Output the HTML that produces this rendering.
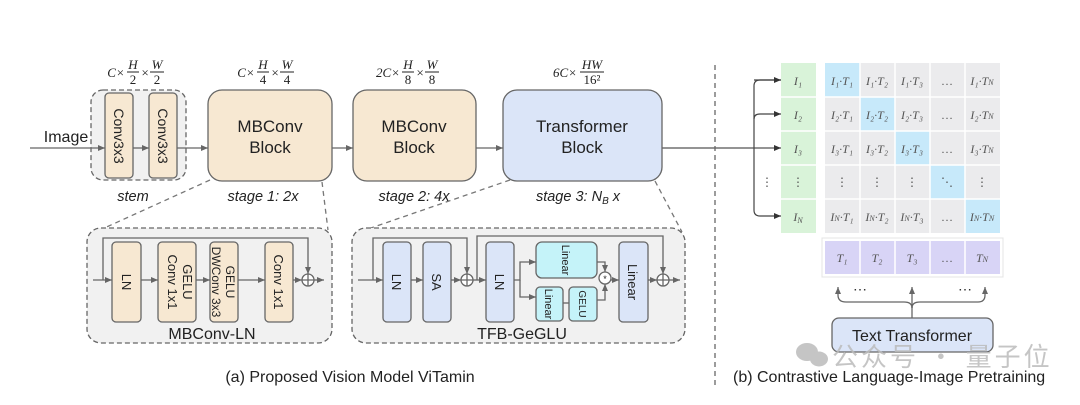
<!DOCTYPE html>
<html><head><meta charset="utf-8"><style>
html,body{margin:0;padding:0;background:#fff;}
svg{display:block;font-family:"Liberation Sans",sans-serif;}
.m{font-family:"Liberation Serif",serif;font-style:italic;}
</style></head><body>
<svg width="1080" height="405" viewBox="0 0 1080 405" xmlns="http://www.w3.org/2000/svg">
<defs>
<marker id="a" markerWidth="8" markerHeight="8" refX="7" refY="4" orient="auto" markerUnits="userSpaceOnUse"><path d="M0,1 L7,4 L0,7z" fill="#666"/></marker>
<marker id="b" markerWidth="8" markerHeight="8" refX="7" refY="4" orient="auto" markerUnits="userSpaceOnUse"><path d="M0,1 L7,4 L0,7z" fill="#333"/></marker>
</defs>
<g stroke="#666" stroke-width="1.3" fill="none">
<rect x="91" y="90" width="95" height="90" rx="12" fill="#f1f1f1" stroke-dasharray="5,3"/>
<line x1="30" y1="148" x2="105" y2="148" marker-end="url(#a)"/>
<line x1="133" y1="148" x2="149" y2="148" marker-end="url(#a)"/>
<line x1="177" y1="148" x2="208" y2="148" marker-end="url(#a)"/>
<line x1="332" y1="148" x2="353" y2="148" marker-end="url(#a)"/>
<line x1="476" y1="148" x2="503" y2="148" marker-end="url(#a)"/>
<line x1="662" y1="148" x2="781" y2="148" marker-end="url(#b)" stroke="#555"/>
<rect x="105" y="93" width="28" height="85" rx="4" fill="#f7e8d2"/>
<rect x="149" y="93" width="28" height="85" rx="4" fill="#f7e8d2"/>
<rect x="208" y="90" width="124" height="91" rx="14" fill="#f7e8d2"/>
<rect x="353" y="90" width="123" height="91" rx="14" fill="#f7e8d2"/>
<rect x="503" y="90" width="159" height="91" rx="14" fill="#dbe5f8"/>
<g stroke-dasharray="5,4" stroke="#777">
<line x1="210" y1="180" x2="100" y2="230"/>
<line x1="322" y1="182" x2="328" y2="230"/>
<line x1="510" y1="180" x2="365" y2="230"/>
<line x1="655" y1="181" x2="682" y2="232"/>
<line x1="715" y1="65" x2="715" y2="388" stroke="#666"/>
</g>
<rect x="87" y="228" width="245" height="115" rx="14" fill="#f1f1f1" stroke-dasharray="5,3"/>
<line x1="93" y1="280" x2="112" y2="280" marker-end="url(#a)"/>
<line x1="141" y1="280" x2="158" y2="280" marker-end="url(#a)"/>
<line x1="196" y1="280" x2="210" y2="280" marker-end="url(#a)"/>
<line x1="238" y1="280" x2="265" y2="280" marker-end="url(#a)"/>
<line x1="293" y1="280" x2="302" y2="280" marker-end="url(#a)"/>
<line x1="314" y1="280" x2="324" y2="280" marker-end="url(#a)"/>
<polyline points="103,280 103,238 308,238 308,274" marker-end="url(#a)"/>
<circle cx="308" cy="280" r="6" fill="#fff"/>
<path d="M302,280h12M308,274v12"/>
<rect x="112" y="242" width="29" height="80" rx="4" fill="#f7e8d2"/>
<rect x="158" y="242" width="38" height="80" rx="4" fill="#f7e8d2"/>
<rect x="210" y="242" width="28" height="80" rx="4" fill="#f7e8d2"/>
<rect x="265" y="242" width="28" height="80" rx="4" fill="#f7e8d2"/>
<rect x="352" y="228" width="333" height="115" rx="14" fill="#f1f1f1" stroke-dasharray="5,3"/>
<line x1="358" y1="280" x2="383" y2="280" marker-end="url(#a)"/>
<line x1="411" y1="280" x2="423" y2="280" marker-end="url(#a)"/>
<line x1="451" y1="280" x2="461" y2="280" marker-end="url(#a)"/>
<line x1="473" y1="280" x2="486" y2="280" marker-end="url(#a)"/>
<polyline points="373,280 373,238 467,238 467,274" marker-end="url(#a)"/>
<polyline points="477,280 477,236 663,236 663,274" marker-end="url(#a)"/>
<polyline points="514,280 520,280 520,262 536,262" marker-end="url(#a)"/>
<polyline points="520,280 520,297 536,297" marker-end="url(#a)"/>
<line x1="563" y1="303" x2="569" y2="303"/>
<polyline points="597,262 605,262 605,272" marker-end="url(#a)"/>
<polyline points="597,300 605,300 605,284" marker-end="url(#a)"/>
<line x1="611" y1="280" x2="619" y2="280" marker-end="url(#a)"/>
<line x1="648" y1="280" x2="657" y2="280" marker-end="url(#a)"/>
<line x1="669" y1="280" x2="680" y2="280" marker-end="url(#a)"/>
<circle cx="467" cy="280" r="6" fill="#fff"/><path d="M461,280h12M467,274v12"/>
<circle cx="663" cy="280" r="6" fill="#fff"/><path d="M657,280h12M663,274v12"/>
<circle cx="605" cy="278" r="6" fill="#fff"/>
<rect x="383" y="242" width="28" height="80" rx="4" fill="#dbe5f8"/>
<rect x="423" y="242" width="28" height="80" rx="4" fill="#dbe5f8"/>
<rect x="486" y="242" width="28" height="80" rx="4" fill="#dbe5f8"/>
<rect x="536" y="242" width="61" height="36" rx="6" fill="#c5f3f9"/>
<rect x="536" y="287" width="27" height="34" rx="4" fill="#c5f3f9"/>
<rect x="569" y="287" width="28" height="34" rx="4" fill="#c5f3f9"/>
<rect x="619" y="242" width="29" height="80" rx="4" fill="#dbe5f8"/>
<g stroke="#444" stroke-width="1.2">
<path d="M781,80 H760 Q754,80 754,86 V210 Q754,216 760,216 H781" marker-end="url(#b)"/>
<path d="M754,119 Q754,114 760,114 H781" marker-end="url(#b)"/>
<line x1="754" y1="80" x2="781" y2="80" marker-end="url(#b)"/>
</g>
<line x1="912" y1="318" x2="912" y2="287" marker-end="url(#a)"/>
<path d="M912,308 Q912,302 904,302 H846 Q838,302 838,295 V287" marker-end="url(#a)"/>
<path d="M912,308 Q912,302 920,302 H978 Q985,302 985,295 V287" marker-end="url(#a)"/>
<rect x="832" y="318" width="161" height="34" rx="7" fill="#dbe5f8"/>
</g>
<g>
<rect x="781" y="63" width="35" height="170" fill="#d9f3d9"/>
<rect x="825" y="63" width="175" height="170" fill="#ebebed"/>
<rect x="825" y="63" width="35" height="34" fill="#c7e9fa"/>
<rect x="860" y="97" width="35" height="34" fill="#c7e9fa"/>
<rect x="895" y="131" width="35" height="34" fill="#c7e9fa"/>
<rect x="930" y="165" width="35" height="34" fill="#c7e9fa"/>
<rect x="965" y="199" width="35" height="34" fill="#c7e9fa"/>
<rect x="822" y="238" width="181" height="39" fill="#fff" stroke="#e4e4e4"/>
<rect x="825" y="241" width="175" height="33" fill="#d8d4f6"/>
<g stroke="#fff" stroke-width="1.5">
<path d="M781,97h35M781,131h35M781,165h35M781,199h35"/>
<path d="M825,97h175M825,131h175M825,165h175M825,199h175"/>
<path d="M860,63v170M895,63v170M930,63v170M965,63v170"/>
<path d="M860,241v33M895,241v33M930,241v33M965,241v33"/>
</g>
</g>
<g font-size="12" fill="#555" text-anchor="middle" class="m">
<text x="798" y="85">I₁</text><text x="798" y="119">I₂</text><text x="798" y="153">I₃</text><text x="798" y="186" font-style="normal">⋮</text><text x="798" y="221">I<tspan font-size="8" dy="2">N</tspan></text>
<text x="842" y="85">I₁·T₁</text><text x="877" y="85">I₁·T₂</text><text x="912" y="85">I₁·T₃</text><text x="947" y="85" font-style="normal">…</text><text x="982" y="85">I₁·T<tspan font-size="8">N</tspan></text>
<text x="842" y="119">I₂·T₁</text><text x="877" y="119">I₂·T₂</text><text x="912" y="119">I₂·T₃</text><text x="947" y="119" font-style="normal">…</text><text x="982" y="119">I₂·T<tspan font-size="8">N</tspan></text>
<text x="842" y="153">I₃·T₁</text><text x="877" y="153">I₃·T₂</text><text x="912" y="153">I₃·T₃</text><text x="947" y="153" font-style="normal">…</text><text x="982" y="153">I₃·T<tspan font-size="8">N</tspan></text>
<g font-style="normal"><text x="842" y="186">⋮</text><text x="877" y="186">⋮</text><text x="912" y="186">⋮</text><text x="947" y="186">⋱</text><text x="982" y="186">⋮</text><text x="767" y="186">⋮</text></g>
<text x="842" y="221">I<tspan font-size="8">N</tspan>·T₁</text><text x="877" y="221">I<tspan font-size="8">N</tspan>·T₂</text><text x="912" y="221">I<tspan font-size="8">N</tspan>·T₃</text><text x="947" y="221" font-style="normal">…</text><text x="982" y="221">I<tspan font-size="8">N</tspan>·T<tspan font-size="8">N</tspan></text>
<text x="842" y="262">T₁</text><text x="877" y="262">T₂</text><text x="912" y="262">T₃</text><text x="947" y="262" font-style="normal">…</text><text x="982" y="262">T<tspan font-size="8">N</tspan></text>
</g>
<g fill="#333" font-size="14" text-anchor="middle"><text x="860" y="294">⋯</text><text x="965" y="294">⋯</text></g>
<g fill="#222" text-anchor="middle">
<text x="66" y="142" font-size="16">Image</text>
<g font-size="14"><text transform="translate(114,136) rotate(90)">Conv3x3</text><text transform="translate(158,136) rotate(90)">Conv3x3</text></g>
<g font-size="17"><text x="270" y="132">MBConv</text><text x="270" y="153">Block</text>
<text x="414" y="132">MBConv</text><text x="414" y="153">Block</text>
<text x="582" y="132">Transformer</text><text x="582" y="153">Block</text></g>
<g font-size="14.5" font-style="italic"><text x="133" y="201">stem</text><text x="263" y="201">stage 1: 2x</text><text x="414" y="201">stage 2: 4x</text><text x="578" y="201">stage 3: N<tspan font-size="10" dy="3">B</tspan><tspan dy="-3"> x</tspan></text></g>
<g font-size="13"><text transform="translate(122,282) rotate(90)">LN</text>
<text transform="translate(183,282) rotate(90)">GELU</text><text transform="translate(168,282) rotate(90)">Conv 1x1</text>
<text transform="translate(226,282) rotate(90)" font-size="12">GELU</text><text transform="translate(212,282) rotate(90)" font-size="12">DWConv 3x3</text>
<text transform="translate(274,282) rotate(90)">Conv 1x1</text>
<text transform="translate(392,282) rotate(90)">LN</text><text transform="translate(432,282) rotate(90)">SA</text><text transform="translate(495,282) rotate(90)">LN</text>
<text transform="translate(562,260) rotate(90)" font-size="11">Linear</text>
<text transform="translate(545,304) rotate(90)" font-size="11">Linear</text>
<text transform="translate(579,304) rotate(90)" font-size="10">GELU</text>
<text transform="translate(628,282) rotate(90)">Linear</text></g>
<text x="605" y="282" font-size="9">*</text>
<g font-size="16"><text x="212" y="339">MBConv-LN</text><text x="522" y="339">TFB-GeGLU</text><text x="912" y="341">Text Transformer</text></g>
</g>
<g class="m" font-size="13" fill="#222" text-anchor="middle">
<text x="116" y="77">C×</text><text x="133" y="69">H</text><line x1="127" y1="72" x2="139" y2="72" stroke="#222"/><text x="133" y="84" font-style="normal">2</text><text x="145" y="77">×</text><text x="157" y="69">W</text><line x1="150" y1="72" x2="164" y2="72" stroke="#222"/><text x="157" y="84" font-style="normal">2</text>
<text x="246" y="77">C×</text><text x="263" y="69">H</text><line x1="257" y1="72" x2="269" y2="72" stroke="#222"/><text x="263" y="84" font-style="normal">4</text><text x="275" y="77">×</text><text x="287" y="69">W</text><line x1="280" y1="72" x2="294" y2="72" stroke="#222"/><text x="287" y="84" font-style="normal">4</text>
<text x="388" y="77">2C×</text><text x="408" y="69">H</text><line x1="402" y1="72" x2="414" y2="72" stroke="#222"/><text x="408" y="84" font-style="normal">8</text><text x="420" y="77">×</text><text x="432" y="69">W</text><line x1="425" y1="72" x2="439" y2="72" stroke="#222"/><text x="432" y="84" font-style="normal">8</text>
<text x="565" y="77">6C×</text><text x="592" y="69">HW</text><line x1="580" y1="72" x2="604" y2="72" stroke="#222"/><text x="592" y="84" font-style="normal">16²</text>
</g>
<g fill="#bbb" opacity="0.85">
<ellipse cx="807" cy="352" rx="11" ry="9"/><ellipse cx="819" cy="359" rx="9" ry="7.5"/>
<text x="832" y="366" font-size="26" font-family="'Noto Sans CJK SC',sans-serif" letter-spacing="3">公众号 · 量子位</text>
</g>
<g fill="#222" font-size="16">
<text x="350" y="382" text-anchor="middle">(a) Proposed Vision Model ViTamin</text>
<text x="733" y="382">(b)  Contrastive Language-Image Pretraining</text>
</g>
</svg>
</body></html>
